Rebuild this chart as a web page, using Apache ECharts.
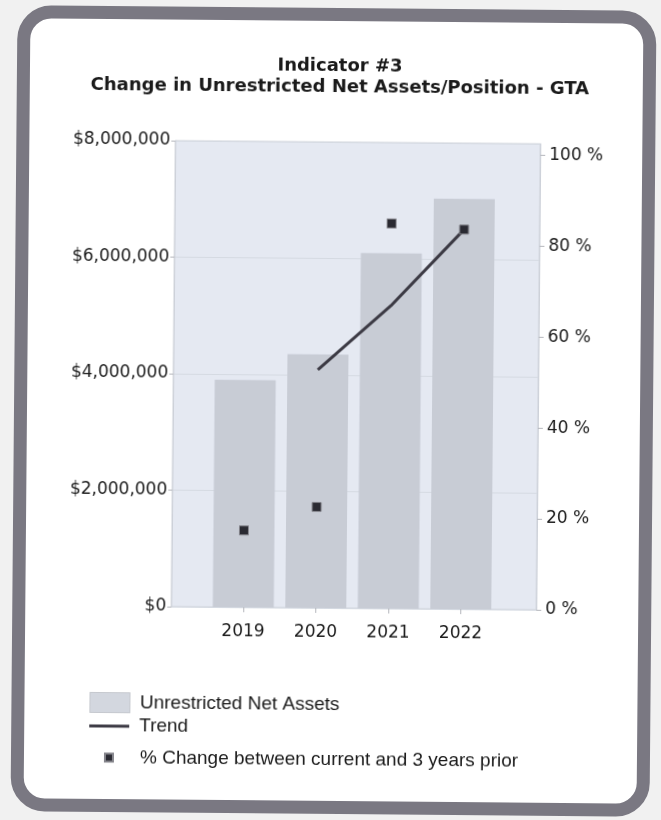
<!DOCTYPE html>
<html>
<head>
<meta charset="utf-8">
<script src="https://cdn.jsdelivr.net/npm/echarts@6/dist/echarts.min.js"></script>
<style>
  html, body { margin: 0; padding: 0; background: #f1f1f1; width: 661px; height: 820px; overflow: hidden; }
  #wrap { position: absolute; left: 0; top: 0; width: 661px; height: 820px; transform: rotate(0.5deg); transform-origin: 330px 410px; }
  #card { position: absolute; left: 14px; top: 8px; width: 639px; height: 806px; box-sizing: border-box;
          border: 13px solid #7a7882; border-radius: 34px; background: #ffffff; }
  #chart { position: absolute; left: 0; top: 0; width: 661px; height: 820px; }
</style>
</head>
<body>
<div id="wrap">
  <div id="card"></div>
  <div id="chart"></div>
</div>
<script>
// ---- data ----
const titleLines = ['Indicator #3', 'Change in Unrestricted Net Assets/Position - GTA'];
const years = ['2019', '2020', '2021', '2022'];
const netAssets = [3900000, 4350000, 6100000, 7045000];          // bars, left axis ($)
const pctChange = [16.9, 22.2, 84.7, 83.5];                        // squares, right axis (%)
const trend = [null, 52.4, 66.6, 83.5];                            // trend line, right axis (%)
const leftTicks = { min: 0, max: 8000000, interval: 2000000 };
const rightTicks = { min: 0, max: 102.5, interval: 20 };
const seriesNames = ['Unrestricted Net Assets', 'Trend', '% Change between current and 3 years prior'];

const textColor = '#1a1a1a';
const axisFont = { fontFamily: 'DejaVu Sans', fontSize: 17, color: textColor };
function legendFont(padLeft) {
  return { fontFamily: 'Liberation Sans, Arial, sans-serif', fontSize: 19, color: textColor, padding: [0, 0, 0, padLeft] };
}

const chart = echarts.init(document.getElementById('chart'), null, { renderer: 'canvas' });
chart.setOption({
  animation: false,
  backgroundColor: 'transparent',
  title: {
    text: titleLines.join('\n'),
    left: 337, top: 56, padding: 0,
    textAlign: 'center',
    textStyle: { fontFamily: 'DejaVu Sans', fontWeight: 'bold', fontSize: 18, lineHeight: 21, color: textColor }
  },
  grid: [
    { left: 173, width: 365, top: 142, height: 466, show: true, backgroundColor: '#e5e9f2', borderColor: '#cdd1d9', borderWidth: 1 },
    { left: 208.75, width: 290, top: 142, height: 466, show: false }
  ],
  xAxis: [
    { gridIndex: 0, type: 'value', min: 0, max: 1, show: false },
    { gridIndex: 1, type: 'category', data: years, boundaryGap: true,
      axisLine: { show: false },
      axisTick: { show: true, alignWithLabel: true, length: 5, lineStyle: { color: '#b4b6bc' } },
      axisLabel: Object.assign({ margin: 16 }, axisFont) }
  ],
  yAxis: [
    { gridIndex: 0, type: 'value', position: 'left', min: leftTicks.min, max: leftTicks.max, interval: leftTicks.interval,
      axisLine: { show: true, lineStyle: { color: '#cdd1d9' } },
      axisTick: { show: true, length: 4, lineStyle: { color: '#b4b6bc' } },
      splitLine: { show: true, lineStyle: { color: '#d5dae2', width: 1 } },
      axisLabel: Object.assign({ margin: 5, formatter: v => '$' + Math.round(v).toLocaleString('en-US') }, axisFont) },
    { gridIndex: 0, type: 'value', position: 'right', min: rightTicks.min, max: rightTicks.max, interval: rightTicks.interval,
      axisLine: { show: true, lineStyle: { color: '#cdd1d9' } },
      axisTick: { show: true, length: 5, lineStyle: { color: '#b4b6bc' } },
      splitLine: { show: false },
      axisLabel: Object.assign({ margin: 9, showMaxLabel: false, formatter: v => v + ' %' }, axisFont) },
    { gridIndex: 1, type: 'value', min: leftTicks.min, max: leftTicks.max, show: false, splitLine: { show: false } },
    { gridIndex: 1, type: 'value', min: rightTicks.min, max: rightTicks.max, show: false, splitLine: { show: false } }
  ],
  legend: [
    { data: [{ name: seriesNames[0], icon: 'rect',
               itemStyle: { color: '#d3d7df', borderColor: '#a3a7af', borderWidth: 1, borderType: 'dotted' } }],
      orient: 'vertical', left: 92, top: 694, padding: 0, itemWidth: 40, itemHeight: 20, textStyle: legendFont(5) },
    { data: [{ name: seriesNames[1], icon: 'rect', itemStyle: { color: '#3c3a44', borderWidth: 0 } }],
      orient: 'vertical', left: 92, top: 718.5, padding: 0, itemWidth: 40, itemHeight: 3,
      textStyle: legendFont(5) },
    { data: [{ name: seriesNames[2], icon: 'rect' }], orient: 'vertical', left: 107, top: 750, padding: 0,
      itemWidth: 8, itemHeight: 8, textStyle: legendFont(22) }
  ],
  series: [
    { name: seriesNames[0], type: 'bar', xAxisIndex: 1, yAxisIndex: 2, data: netAssets, barWidth: 61,
      itemStyle: { color: '#c8ccd5' }, z: 2 },
    { name: seriesNames[1], type: 'line', xAxisIndex: 1, yAxisIndex: 3, data: trend, symbol: 'none',
      connectNulls: false, lineStyle: { color: '#3c3a44', width: 3 }, itemStyle: { color: '#3c3a44' }, z: 3 },
    { name: seriesNames[2], type: 'scatter', xAxisIndex: 1, yAxisIndex: 3, data: pctChange, symbol: 'rect',
      symbolSize: 9,
      itemStyle: { color: '#2a2a32', borderColor: '#85858c', borderWidth: 1, opacity: 1 }, z: 4 }
  ]
});
</script>
</body>
</html>
